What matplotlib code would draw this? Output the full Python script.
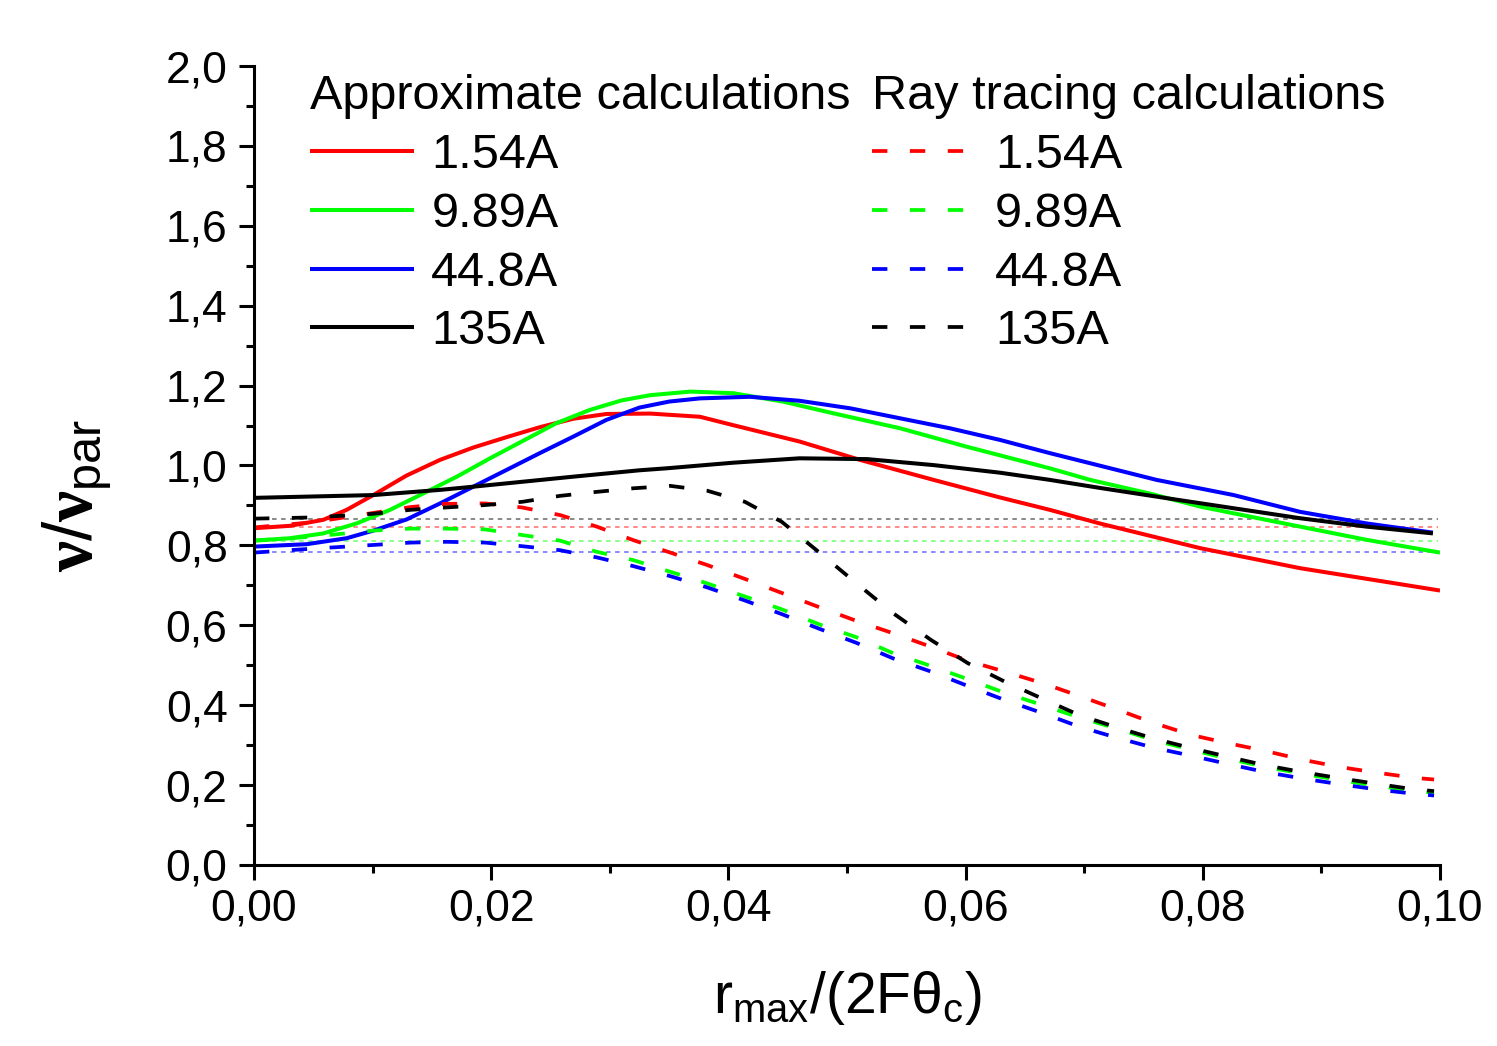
import matplotlib
matplotlib.use("Agg")
import matplotlib.pyplot as plt
import matplotlib.ticker as tck

plt.rcParams['font.family'] = ['Liberation Sans', 'DejaVu Sans']
plt.rcParams['mathtext.fontset'] = 'custom'
plt.rcParams['mathtext.rm'] = 'Liberation Sans'
plt.rcParams['mathtext.it'] = 'Liberation Serif:bold'

# ------ approximate calculations (solid)
red_x = [0, 0.00304, 0.00584, 0.00781, 0.01006, 0.01287, 0.01568, 0.01849, 0.0213, 0.02411,
         0.02692, 0.02973, 0.0334, 0.0376, 0.0404, 0.046, 0.0511, 0.0573, 0.0629, 0.0671,
         0.0713, 0.0798, 0.0882, 0.1]
red_y = [0.843, 0.849, 0.864, 0.889, 0.926, 0.975, 1.014, 1.045, 1.071, 1.096,
         1.117, 1.129, 1.13, 1.122, 1.101, 1.06, 1.014, 0.964, 0.92, 0.889,
         0.855, 0.793, 0.743, 0.687]

green_x = [0, 0.00304, 0.00584, 0.00865, 0.01147, 0.014, 0.0171, 0.0199, 0.0227, 0.0255,
           0.0283, 0.0310, 0.0334, 0.0368, 0.0404, 0.0446, 0.0488, 0.0545, 0.0601, 0.0671,
           0.0705, 0.0755, 0.0798, 0.084, 0.0882, 0.0938, 0.1]
green_y = [0.812, 0.818, 0.830, 0.855, 0.889, 0.926, 0.972, 1.018, 1.062, 1.106,
           1.139, 1.163, 1.176, 1.185, 1.181, 1.16, 1.131, 1.093, 1.047, 0.993,
           0.964, 0.93, 0.897, 0.872, 0.847, 0.814, 0.782]

blue_x = [0, 0.00444, 0.00781, 0.01006, 0.01287, 0.01568, 0.01849, 0.0213, 0.0241, 0.0269,
          0.0297, 0.0325, 0.0350, 0.0376, 0.0418, 0.046, 0.0503, 0.0545, 0.0587, 0.0629, 0.0671,
          0.0761, 0.0826, 0.0882, 0.0938, 0.0994]
blue_y = [0.797, 0.803, 0.818, 0.837, 0.865, 0.905, 0.947, 0.989, 1.031, 1.072,
          1.114, 1.145, 1.160, 1.168, 1.172, 1.162, 1.143, 1.118, 1.093, 1.064, 1.031,
          0.964, 0.926, 0.884, 0.855, 0.832]

black_x = [0, 0.01006, 0.0157, 0.0185, 0.0269, 0.0325, 0.0348, 0.0404, 0.046, 0.0517,
           0.0573, 0.0629, 0.0671, 0.0713, 0.077, 0.0826, 0.0882, 0.0938, 0.0994]
black_y = [0.919, 0.926, 0.939, 0.947, 0.972, 0.988, 0.993, 1.007, 1.018, 1.016,
           1.001, 0.982, 0.964, 0.944, 0.918, 0.893, 0.868, 0.847, 0.83]

# ------ ray tracing calculations (dashed)
rt_x = [0, 0.005, 0.0100, 0.0132, 0.0162, 0.0195, 0.0226, 0.0258, 0.0289, 0.032,
        0.0351, 0.0382, 0.0414, 0.0445, 0.0476, 0.0508, 0.0539, 0.0571, 0.0602, 0.0633,
        0.0665, 0.0696, 0.0727, 0.0758, 0.0791, 0.0821, 0.0852, 0.0885, 0.0916, 0.0947,
        0.0979, 0.0995]
rt_red = [0.845, 0.858, 0.881, 0.896, 0.904, 0.905, 0.895, 0.876, 0.847, 0.813,
          0.782, 0.751, 0.716, 0.681, 0.646, 0.611, 0.58, 0.546, 0.511, 0.484,
          0.455, 0.423, 0.39, 0.356, 0.325, 0.305, 0.286, 0.263, 0.245, 0.231,
          0.218, 0.214]
rt_green = [0.812, 0.822, 0.837, 0.842, 0.842, 0.84, 0.826, 0.812, 0.784, 0.763,
            0.734, 0.705, 0.672, 0.64, 0.603, 0.57, 0.53, 0.498, 0.465, 0.431,
            0.4, 0.369, 0.342, 0.313, 0.288, 0.266, 0.246, 0.228, 0.212, 0.198,
            0.185, 0.181]
rt_blue = [0.782, 0.792, 0.801, 0.807, 0.809, 0.807, 0.798, 0.788, 0.77, 0.748,
           0.723, 0.695, 0.662, 0.628, 0.592, 0.556, 0.517, 0.484, 0.448, 0.413,
           0.38, 0.346, 0.319, 0.294, 0.273, 0.253, 0.233, 0.216, 0.202, 0.189,
           0.178, 0.174]
rt_black = [0.867, 0.870, 0.879, 0.889, 0.895, 0.901, 0.909, 0.924, 0.934, 0.943,
            0.949, 0.937, 0.909, 0.859, 0.784, 0.705, 0.63, 0.563, 0.505, 0.459,
            0.416, 0.375, 0.345, 0.317, 0.292, 0.271, 0.25, 0.232, 0.217, 0.203,
            0.189, 0.185]

# parallel-beam reference levels (thin dotted lines)
par_levels = [0.867, 0.846, 0.812, 0.783]
par_colors = ["black", "red", "#00ff00", "blue"]

labels = ["1.54A", "9.89A", "44.8A", "135A"]
colors = ["red", "#00ff00", "blue", "black"]

fig = plt.figure(figsize=(14.97, 10.46), dpi=100)
ax = fig.add_axes([254/1497, 1-865/1046, 1186/1497, 799/1046])

for lvl, c in zip(par_levels, par_colors):
    ax.hlines(lvl, 0, 0.0998, color=c, lw=1.3, alpha=0.5, linestyles=(0, (2.5, 2.5)))

solid = []
for xs, ys, c in zip([red_x, green_x, blue_x, black_x], [red_y, green_y, blue_y, black_y], colors):
    l, = ax.plot(xs, ys, color=c, lw=2.9, solid_capstyle="butt", solid_joinstyle="round")
    solid.append(l)

dashed = []
for ys, c in zip([rt_red, rt_green, rt_blue, rt_black], colors):
    l, = ax.plot(rt_x, ys, color=c, lw=2.7, linestyle=(0, (4.1, 6.0)))
    dashed.append(l)

ax.set_xlim(0, 0.1)
ax.set_ylim(0, 2.0)
ax.spines["top"].set_visible(False)
ax.spines["right"].set_visible(False)
for s in ["left", "bottom"]:
    ax.spines[s].set_linewidth(2.2)

ax.xaxis.set_major_locator(tck.MultipleLocator(0.02))
ax.xaxis.set_minor_locator(tck.MultipleLocator(0.01))
ax.yaxis.set_major_locator(tck.MultipleLocator(0.2))
ax.yaxis.set_minor_locator(tck.MultipleLocator(0.1))
ax.xaxis.set_major_formatter(tck.FuncFormatter(lambda v, p: f"{v:.2f}".replace(".", ",")))
ax.yaxis.set_major_formatter(tck.FuncFormatter(lambda v, p: f"{v:.1f}".replace(".", ",")))
ax.tick_params(which="major", length=11, width=2.2, labelsize=32, direction="out")
ax.tick_params(which="minor", length=5.5, width=2.2, direction="out")
ax.tick_params(axis="y", which="major", pad=8)
ax.tick_params(axis="x", which="major", pad=6)

ax.set_xlabel(r"$\mathrm{r_{max}/(2F\theta_c)}$", fontsize=41)
ax.xaxis.set_label_coords(0.5, -0.13)
ax.set_ylabel(r"$\nu/\nu_{\mathrm{par}}$", fontsize=50)
ax.yaxis.set_label_coords(-0.118, 0.463)

leg1 = ax.legend(solid, labels, title="Approximate calculations", loc="upper left",
                 bbox_to_anchor=(0.047, 0.99), frameon=False, fontsize=35, title_fontsize=35,
                 alignment="left", borderpad=0, borderaxespad=0, handlelength=2.15,
                 handletextpad=0.35, labelspacing=0.285)
ax.add_artist(leg1)
ax.legend(dashed, labels, title="Ray tracing calculations", loc="upper left",
          bbox_to_anchor=(0.521, 0.99), frameon=False, fontsize=35, title_fontsize=35,
          alignment="left", borderpad=0, borderaxespad=0, handlelength=1.9,
          handletextpad=0.63, labelspacing=0.285)

plt.savefig("out.png", dpi=100)
